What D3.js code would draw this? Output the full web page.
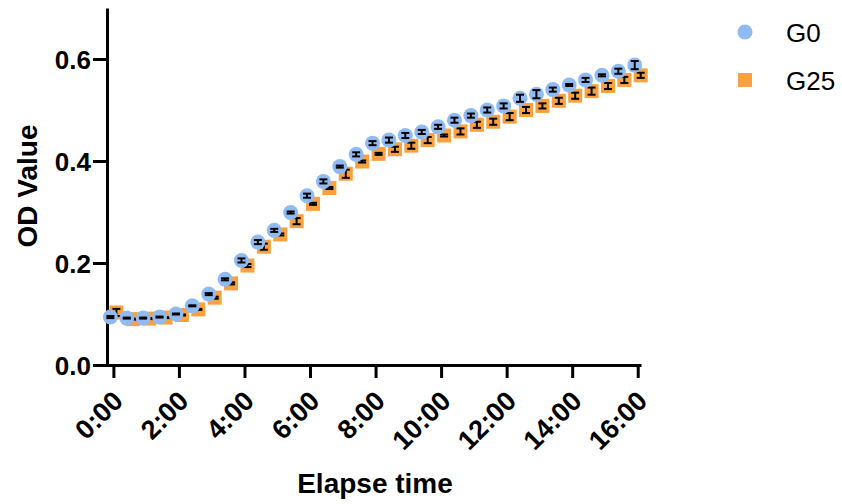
<!DOCTYPE html>
<html>
<head>
<meta charset="utf-8">
<script src="https://cdn.jsdelivr.net/npm/d3@7"></script>
<style>
  body { margin: 0; background: #fff; }
  svg { display: block; font-family: "Liberation Sans", Arial, sans-serif; }
</style>
</head>
<body>
<svg id="chart" width="842" height="504"></svg>
<script>
// elapsed time of each reading, minutes
var times = [0, 30, 60, 90, 120, 150, 180, 210, 240, 270, 300, 330, 360, 390, 420, 450, 480,
  510, 540, 570, 600, 630, 660, 690, 720, 750, 780, 810, 840, 870, 900, 930, 960];

var g0 = [0.094, 0.092, 0.092, 0.094, 0.100, 0.116, 0.139, 0.168, 0.205, 0.241, 0.264, 0.299,
  0.332, 0.360, 0.389, 0.413, 0.435, 0.441, 0.450, 0.457, 0.467, 0.480, 0.489, 0.500, 0.508,
  0.523, 0.531, 0.540, 0.549, 0.559, 0.568, 0.576, 0.588];
var g0Err = [0.002, 0.001, 0.001, 0.001, 0.001, 0.001, 0.002, 0.002, 0.004, 0.004, 0.003, 0.002,
  0.004, 0.004, 0.002, 0.004, 0.004, 0.005, 0.005, 0.004, 0.004, 0.005, 0.004, 0.005, 0.005,
  0.007, 0.008, 0.004, 0.002, 0.004, 0.002, 0.005, 0.008];

var g25 = [0.103, 0.090, 0.091, 0.093, 0.098, 0.109, 0.132, 0.160, 0.195, 0.232, 0.256, 0.282,
  0.316, 0.347, 0.375, 0.399, 0.414, 0.423, 0.430, 0.441, 0.450, 0.458, 0.471, 0.477, 0.487,
  0.500, 0.508, 0.518, 0.528, 0.537, 0.547, 0.559, 0.568];
var g25Err = [0.007, 0.001, 0.001, 0.001, 0.001, 0.001, 0.002, 0.002, 0.003, 0.006, 0.002, 0.006,
  0.002, 0.002, 0.008, 0.002, 0.002, 0.005, 0.006, 0.006, 0.002, 0.006, 0.006, 0.006, 0.007,
  0.006, 0.005, 0.006, 0.006, 0.007, 0.006, 0.006, 0.005];

var xTicks = [0, 120, 240, 360, 480, 600, 720, 840, 960];
var yTicks = [0, 0.2, 0.4, 0.6];
var seriesNames = ['G0', 'G25'];

var BLUE = '#8fbbf2';
var ORANGE = '#f9a140';
var DODGE = 3;   // GraphPad style side-by-side nudge, px
var CAP = 4;

var svg = d3.select('#chart');

var x = d3.scaleLinear().domain([-30, 966]).range([97, 641]);
var y = d3.scaleLinear().domain([0, 0.7]).range([365, 8]);

function fmtTime(m) { return Math.floor(m / 60) + ':' + d3.format('02')(m % 60); }

// axes
var gx = svg.append('g')
  .attr('transform', 'translate(0,365)')
  .call(d3.axisBottom(x).tickValues(xTicks).tickSize(13).tickSizeOuter(0).tickFormat(fmtTime));
gx.select('.domain').attr('stroke-width', 3);
gx.selectAll('.tick line').attr('stroke-width', 3);
gx.selectAll('.tick text')
  .attr('font-size', 27).attr('font-weight', 'bold').attr('fill', '#000')
  .attr('text-anchor', 'end')
  .attr('transform', 'translate(4,31) rotate(-45)')
  .attr('y', 0).attr('dy', '0.35em').attr('x', 0);

var gy = svg.append('g')
  .attr('transform', 'translate(107,0)')
  .call(d3.axisLeft(y).tickValues(yTicks).tickSize(14).tickSizeOuter(0).tickFormat(d3.format('.1f')));
gy.select('.domain').attr('stroke-width', 3);
gy.selectAll('.tick line').attr('stroke-width', 3);
gy.selectAll('.tick text')
  .attr('font-size', 26).attr('font-weight', 'bold').attr('fill', '#000')
  .attr('x', -16).attr('dy', '0.36em');

// titles
svg.append('text')
  .attr('x', 375).attr('y', 493)
  .attr('text-anchor', 'middle')
  .attr('font-size', 28).attr('font-weight', 'bold')
  .text('Elapse time');

svg.append('text')
  .attr('transform', 'translate(37,186) rotate(-90)')
  .attr('text-anchor', 'middle')
  .attr('font-size', 28).attr('font-weight', 'bold')
  .text('OD Value');

function errorBars(vals, errs, dx) {
  var g = svg.append('g').attr('stroke', '#000').attr('stroke-width', 2);
  times.forEach(function (t, i) {
    var cx = x(t) + dx;
    var lo = y(vals[i] - errs[i]), hi = y(vals[i] + errs[i]);
    g.append('line').attr('x1', cx).attr('x2', cx).attr('y1', lo).attr('y2', hi);
    g.append('line').attr('x1', cx - CAP).attr('x2', cx + CAP).attr('y1', lo).attr('y2', lo);
    g.append('line').attr('x1', cx - CAP).attr('x2', cx + CAP).attr('y1', hi).attr('y2', hi);
  });
}

// G25 squares (drawn underneath)
svg.append('g')
  .selectAll('rect')
  .data(g25)
  .join('rect')
  .attr('x', function (d, i) { return x(times[i]) + DODGE - 7; })
  .attr('y', function (d) { return y(d) - 7; })
  .attr('width', 14).attr('height', 14)
  .attr('fill', ORANGE);
errorBars(g25, g25Err, DODGE);

// G0 circles
svg.append('g')
  .selectAll('circle')
  .data(g0)
  .join('circle')
  .attr('cx', function (d, i) { return x(times[i]) - DODGE; })
  .attr('cy', function (d) { return y(d); })
  .attr('r', 7.5)
  .attr('fill', BLUE);
errorBars(g0, g0Err, -DODGE);

// legend
var leg = svg.append('g').attr('transform', 'translate(745,0)');
leg.append('circle').attr('cx', 0).attr('cy', 32).attr('r', 7.5).attr('fill', BLUE);
leg.append('rect').attr('x', -7).attr('y', 73).attr('width', 14).attr('height', 14).attr('fill', ORANGE);
leg.selectAll('text')
  .data(seriesNames)
  .join('text')
  .attr('x', 41)
  .attr('y', function (d, i) { return 33 + i * 48; })
  .attr('dy', '0.35em')
  .attr('font-size', 26)
  .text(function (d) { return d; });
</script>
</body>
</html>
